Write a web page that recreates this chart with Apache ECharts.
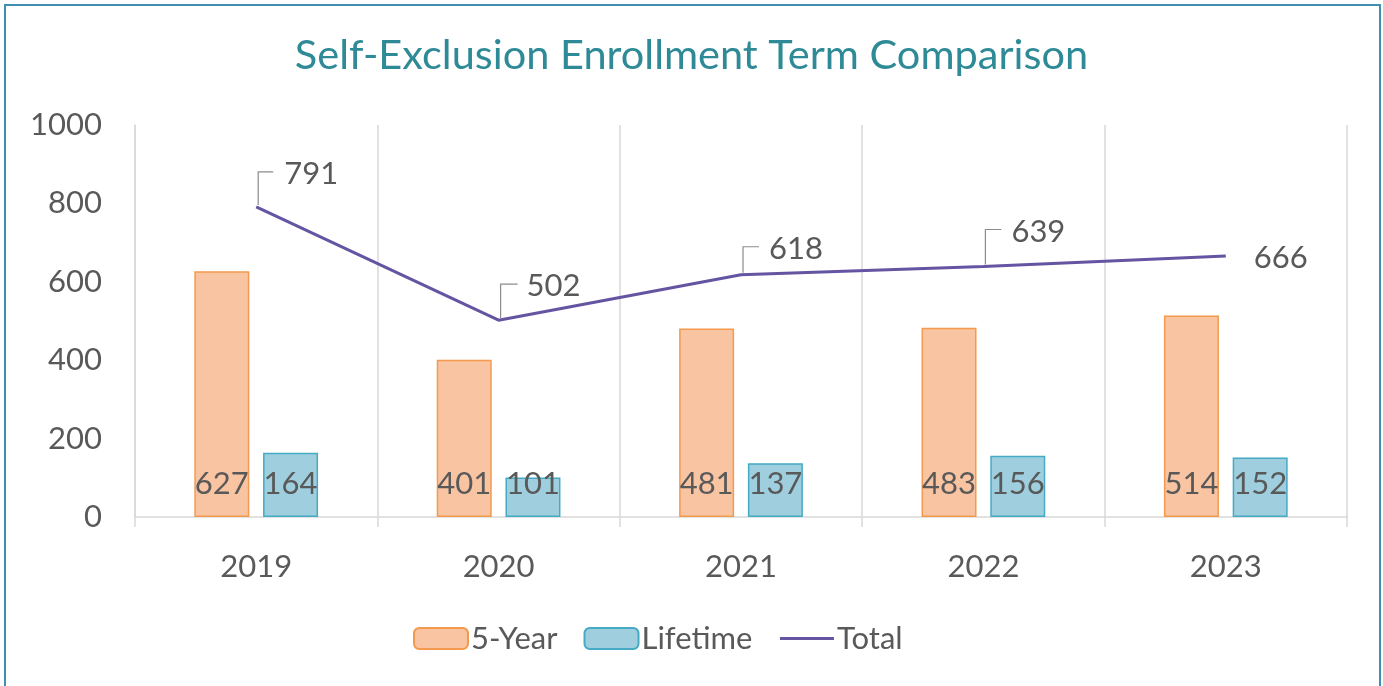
<!DOCTYPE html>
<html>
<head>
<meta charset="utf-8">
<script src="https://cdn.jsdelivr.net/npm/echarts@6/dist/echarts.min.js"></script>
<style>
html,body{margin:0;padding:0;background:#fff;}
#c{width:1383px;height:686px;}
</style>
</head>
<body>
<div id="c"></div>
<script>
var years = ['2019', '2020', '2021', '2022', '2023'];
var fiveYear = [627, 401, 481, 483, 514];
var lifetime = [164, 101, 137, 156, 152];
var total = [791, 502, 618, 639, 666];
var yTicks = [0, 200, 400, 600, 800, 1000];

var FONT = 'Lato, "Open Sans", sans-serif';
var GRAY = '#595959';

// leader-line layout for the Total labels (pixels relative to the point)
var leaderLayout = [
  {leader: true, up: 35, right: 15, textDx: 28},
  {leader: true, up: 36, right: 17, textDx: 28},
  {leader: true, up: 28, right: 16, textDx: 28},
  {leader: true, up: 37, right: 16, textDx: 28},
  {leader: false, textDx: 28, textDy: 2}
];

var chart = echarts.init(document.getElementById('c'), null, {renderer: 'canvas'});

var option = {
  backgroundColor: '#ffffff',
  animation: false,
  title: {
    text: 'Self-Exclusion Enrollment Term Comparison',
    left: 'center',
    top: 30,
    textStyle: {fontFamily: FONT, fontSize: 41.5, fontWeight: 'normal', color: '#2e8a96'}
  },
  graphic: [{
    type: 'rect',
    shape: {x: 5, y: 5, width: 1375, height: 690},
    style: {fill: 'none', stroke: '#3f8fb0', lineWidth: 2},
    silent: true
  }],
  legend: {
    data: [
      {name: '5-Year'},
      {name: 'Lifetime'},
      {name: 'Total', itemStyle: {opacity: 0}, lineStyle: {width: 3}}
    ],
    left: 408,
    top: 618,
    itemWidth: 54,
    itemHeight: 21,
    itemGap: 26,
    textStyle: {fontFamily: FONT, fontSize: 31, color: GRAY, padding: [0, 0, 0, -2]}
  },
  grid: {left: 135, right: 36, top: 125, bottom: 169, containLabel: false},
  xAxis: {
    type: 'category',
    data: years,
    boundaryGap: true,
    axisLine: {show: true, lineStyle: {color: '#d9d9d9', width: 1.5}},
    axisTick: {show: true, length: 10, lineStyle: {color: '#d9d9d9', width: 1.5}},
    splitLine: {show: true, lineStyle: {color: '#d9d9d9', width: 1.5}},
    axisLabel: {margin: 34, fontFamily: FONT, fontSize: 31, color: GRAY}
  },
  yAxis: {
    type: 'value',
    min: yTicks[0],
    max: yTicks[yTicks.length - 1],
    interval: yTicks[1] - yTicks[0],
    axisLine: {show: true, lineStyle: {color: '#d9d9d9', width: 1.5}},
    axisTick: {show: false},
    splitLine: {show: false},
    axisLabel: {margin: 33, fontFamily: FONT, fontSize: 31, color: GRAY,
      formatter: function (v) { return String(v); }}
  },
  series: [
    {
      name: '5-Year',
      type: 'bar',
      data: fiveYear,
      barWidth: 55,
      barGap: '25%',
      itemStyle: {color: '#f9c4a2', borderColor: '#f39a4e', borderWidth: 1.5},
      label: {show: true, position: 'insideBottom', distance: 18, fontFamily: FONT, fontSize: 31, color: GRAY}
    },
    {
      name: 'Lifetime',
      type: 'bar',
      data: lifetime,
      barWidth: 55,
      barGap: '25%',
      itemStyle: {color: '#9fcfdf', borderColor: '#45aac4', borderWidth: 1.5},
      label: {show: true, position: 'insideBottom', distance: 18, fontFamily: FONT, fontSize: 31, color: GRAY}
    },
    {
      name: 'Total',
      type: 'line',
      data: total,
      symbol: 'none',
      lineStyle: {color: '#6454a2', width: 3},
      itemStyle: {color: '#6454a2'},
      z: 5
    },
    {
      name: 'TotalLabels',
      type: 'custom',
      data: total.map(function (v, i) { return [i, v]; }),
      encode: {x: 0, y: 1},
      z: 6,
      silent: true,
      renderItem: function (params, api) {
        var i = params.dataIndex;
        var p = api.coord([api.value(0), api.value(1)]);
        var L = leaderLayout[i];
        var children = [];
        var tx, ty;
        if (L.leader) {
          var x0 = p[0] + 2, y0 = p[1] - 2, y1 = p[1] - L.up;
          children.push({
            type: 'polyline',
            shape: {points: [[x0, y0], [x0, y1], [x0 + L.right, y1]]},
            style: {stroke: '#8c8c8c', lineWidth: 1.2, fill: 'none'}
          });
          tx = p[0] + L.textDx;
          ty = y1 + 2;
        } else {
          tx = p[0] + L.textDx;
          ty = p[1] + L.textDy;
        }
        children.push({
          type: 'text',
          style: {
            text: String(api.value(1)),
            x: tx, y: ty,
            font: '31px ' + FONT,
            fill: GRAY,
            align: 'left',
            verticalAlign: 'middle'
          }
        });
        return {type: 'group', children: children};
      }
    }
  ]
};
chart.setOption(option);
</script>
</body>
</html>
